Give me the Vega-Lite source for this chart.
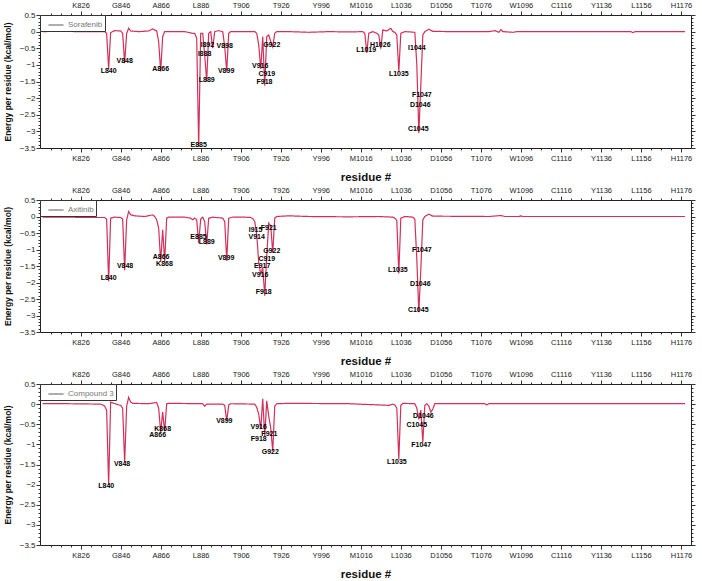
{
  "$schema": "https://vega.github.io/schema/vega-lite/v6.json",
  "padding": {"left": 3, "top": 1, "right": 4, "bottom": 0},
  "spacing": 3,
  "resolve": {"scale": {"strokeDash": "independent"}, "legend": {"strokeDash": "independent"}},
  "config": {
    "font": "Liberation Sans",
    "view": {"stroke": null},
    "axis": {"grid": false, "domainColor": "#222", "tickColor": "#333", "labelColor": "#222", "titleColor": "#111", "labelOverlap": false, "labelFlush": false, "labelBound": false},
    "legend": {"orient": "top-left", "title": null, "offset": 0, "padding": 2, "symbolOffset": 6, "symbolType": "stroke", "symbolSize": 225, "symbolStrokeWidth": 1, "symbolStrokeColor": "#444", "labelFontSize": 8, "labelColor": "#777", "labelOffset": 4, "labelExpr": "datum.label + '      '", "strokeColor": "#333", "fillColor": "white", "cornerRadius": 0}
  },
  "datasets": {
    "line": [
      {"drug": "Sorafenib", "res": 807, "e": 0}, {"drug": "Sorafenib", "res": 815, "e": 0.01}, {"drug": "Sorafenib", "res": 825, "e": 0}, {"drug": "Sorafenib", "res": 835, "e": 0}, {"drug": "Sorafenib", "res": 838, "e": 0}, {"drug": "Sorafenib", "res": 839, "e": -0.05}, {"drug": "Sorafenib", "res": 840, "e": -1.12}, {"drug": "Sorafenib", "res": 841, "e": -0.03}, {"drug": "Sorafenib", "res": 843, "e": 0.03}, {"drug": "Sorafenib", "res": 846, "e": 0.02}, {"drug": "Sorafenib", "res": 847, "e": -0.05}, {"drug": "Sorafenib", "res": 848, "e": -0.95}, {"drug": "Sorafenib", "res": 849, "e": -0.05}, {"drug": "Sorafenib", "res": 850, "e": 0.1}, {"drug": "Sorafenib", "res": 851, "e": 0.02}, {"drug": "Sorafenib", "res": 855, "e": 0}, {"drug": "Sorafenib", "res": 860, "e": 0.02}, {"drug": "Sorafenib", "res": 862, "e": 0.08}, {"drug": "Sorafenib", "res": 864, "e": 0.02}, {"drug": "Sorafenib", "res": 865, "e": -0.3}, {"drug": "Sorafenib", "res": 866, "e": -1.2}, {"drug": "Sorafenib", "res": 867, "e": -0.15}, {"drug": "Sorafenib", "res": 868, "e": 0}, {"drug": "Sorafenib", "res": 872, "e": 0}, {"drug": "Sorafenib", "res": 878, "e": 0}, {"drug": "Sorafenib", "res": 882, "e": -0.05}, {"drug": "Sorafenib", "res": 883, "e": -0.05}, {"drug": "Sorafenib", "res": 884, "e": -0.2}, {"drug": "Sorafenib", "res": 885, "e": -3.45}, {"drug": "Sorafenib", "res": 886, "e": -0.05}, {"drug": "Sorafenib", "res": 887, "e": -0.05}, {"drug": "Sorafenib", "res": 888, "e": -0.7}, {"drug": "Sorafenib", "res": 889, "e": -1.5}, {"drug": "Sorafenib", "res": 890, "e": -0.05}, {"drug": "Sorafenib", "res": 891, "e": 0}, {"drug": "Sorafenib", "res": 892, "e": -0.5}, {"drug": "Sorafenib", "res": 893, "e": 0}, {"drug": "Sorafenib", "res": 895, "e": 0.03}, {"drug": "Sorafenib", "res": 897, "e": 0}, {"drug": "Sorafenib", "res": 898, "e": -0.45}, {"drug": "Sorafenib", "res": 899, "e": -1.2}, {"drug": "Sorafenib", "res": 900, "e": -0.05}, {"drug": "Sorafenib", "res": 901, "e": 0}, {"drug": "Sorafenib", "res": 905, "e": 0}, {"drug": "Sorafenib", "res": 910, "e": 0}, {"drug": "Sorafenib", "res": 913, "e": 0}, {"drug": "Sorafenib", "res": 914, "e": -0.05}, {"drug": "Sorafenib", "res": 915, "e": -0.4}, {"drug": "Sorafenib", "res": 916, "e": -1.12}, {"drug": "Sorafenib", "res": 917, "e": -0.15}, {"drug": "Sorafenib", "res": 918, "e": -1.63}, {"drug": "Sorafenib", "res": 919, "e": -0.15}, {"drug": "Sorafenib", "res": 920, "e": -0.1}, {"drug": "Sorafenib", "res": 921, "e": -0.3}, {"drug": "Sorafenib", "res": 922, "e": -0.46}, {"drug": "Sorafenib", "res": 923, "e": -0.05}, {"drug": "Sorafenib", "res": 924, "e": 0}, {"drug": "Sorafenib", "res": 930, "e": 0}, {"drug": "Sorafenib", "res": 940, "e": -0.02}, {"drug": "Sorafenib", "res": 950, "e": 0}, {"drug": "Sorafenib", "res": 960, "e": -0.01}, {"drug": "Sorafenib", "res": 967, "e": 0}, {"drug": "Sorafenib", "res": 968, "e": -0.05}, {"drug": "Sorafenib", "res": 969, "e": -0.64}, {"drug": "Sorafenib", "res": 970, "e": -0.05}, {"drug": "Sorafenib", "res": 972, "e": 0}, {"drug": "Sorafenib", "res": 974, "e": -0.05}, {"drug": "Sorafenib", "res": 975, "e": -0.1}, {"drug": "Sorafenib", "res": 976, "e": -0.51}, {"drug": "Sorafenib", "res": 977, "e": 0.05}, {"drug": "Sorafenib", "res": 979, "e": 0.02}, {"drug": "Sorafenib", "res": 981, "e": 0.1}, {"drug": "Sorafenib", "res": 982, "e": 0}, {"drug": "Sorafenib", "res": 983, "e": -0.02}, {"drug": "Sorafenib", "res": 984, "e": -0.1}, {"drug": "Sorafenib", "res": 985, "e": -1.2}, {"drug": "Sorafenib", "res": 986, "e": -0.05}, {"drug": "Sorafenib", "res": 988, "e": 0}, {"drug": "Sorafenib", "res": 993, "e": -0.02}, {"drug": "Sorafenib", "res": 994, "e": -1.0}, {"drug": "Sorafenib", "res": 995, "e": -3.05}, {"drug": "Sorafenib", "res": 996, "e": -1.6}, {"drug": "Sorafenib", "res": 997, "e": -0.1}, {"drug": "Sorafenib", "res": 998, "e": 0}, {"drug": "Sorafenib", "res": 1000, "e": 0.07}, {"drug": "Sorafenib", "res": 1002, "e": 0.01}, {"drug": "Sorafenib", "res": 1010, "e": 0}, {"drug": "Sorafenib", "res": 1020, "e": 0}, {"drug": "Sorafenib", "res": 1030, "e": 0}, {"drug": "Sorafenib", "res": 1033, "e": 0.03}, {"drug": "Sorafenib", "res": 1035, "e": -0.02}, {"drug": "Sorafenib", "res": 1036, "e": 0.06}, {"drug": "Sorafenib", "res": 1037, "e": 0}, {"drug": "Sorafenib", "res": 1042, "e": -0.02}, {"drug": "Sorafenib", "res": 1044, "e": 0}, {"drug": "Sorafenib", "res": 1070, "e": 0}, {"drug": "Sorafenib", "res": 1101, "e": 0}, {"drug": "Sorafenib", "res": 1102, "e": -0.03}, {"drug": "Sorafenib", "res": 1103, "e": 0}, {"drug": "Sorafenib", "res": 1128, "e": 0},

      {"drug": "Axitinib", "res": 807, "e": -0.02}, {"drug": "Axitinib", "res": 820, "e": -0.02}, {"drug": "Axitinib", "res": 830, "e": -0.03}, {"drug": "Axitinib", "res": 838, "e": -0.03}, {"drug": "Axitinib", "res": 839, "e": -0.08}, {"drug": "Axitinib", "res": 840, "e": -1.96}, {"drug": "Axitinib", "res": 841, "e": -0.05}, {"drug": "Axitinib", "res": 843, "e": -0.02}, {"drug": "Axitinib", "res": 846, "e": -0.03}, {"drug": "Axitinib", "res": 847, "e": -0.08}, {"drug": "Axitinib", "res": 848, "e": -1.63}, {"drug": "Axitinib", "res": 849, "e": -0.1}, {"drug": "Axitinib", "res": 850, "e": 0.15}, {"drug": "Axitinib", "res": 851, "e": 0.05}, {"drug": "Axitinib", "res": 853, "e": 0.02}, {"drug": "Axitinib", "res": 858, "e": 0}, {"drug": "Axitinib", "res": 862, "e": 0.05}, {"drug": "Axitinib", "res": 863, "e": 0}, {"drug": "Axitinib", "res": 864, "e": -0.1}, {"drug": "Axitinib", "res": 865, "e": -0.35}, {"drug": "Axitinib", "res": 866, "e": -1.37}, {"drug": "Axitinib", "res": 867, "e": -0.4}, {"drug": "Axitinib", "res": 868, "e": -1.37}, {"drug": "Axitinib", "res": 869, "e": -0.05}, {"drug": "Axitinib", "res": 870, "e": -0.02}, {"drug": "Axitinib", "res": 878, "e": -0.02}, {"drug": "Axitinib", "res": 881, "e": -0.05}, {"drug": "Axitinib", "res": 882, "e": -0.1}, {"drug": "Axitinib", "res": 883, "e": -0.05}, {"drug": "Axitinib", "res": 884, "e": -0.1}, {"drug": "Axitinib", "res": 885, "e": -0.8}, {"drug": "Axitinib", "res": 886, "e": -0.08}, {"drug": "Axitinib", "res": 887, "e": -0.02}, {"drug": "Axitinib", "res": 888, "e": -0.15}, {"drug": "Axitinib", "res": 889, "e": -0.85}, {"drug": "Axitinib", "res": 890, "e": -0.05}, {"drug": "Axitinib", "res": 892, "e": -0.02}, {"drug": "Axitinib", "res": 897, "e": -0.05}, {"drug": "Axitinib", "res": 898, "e": -0.15}, {"drug": "Axitinib", "res": 899, "e": -1.35}, {"drug": "Axitinib", "res": 900, "e": -0.05}, {"drug": "Axitinib", "res": 902, "e": -0.02}, {"drug": "Axitinib", "res": 908, "e": -0.02}, {"drug": "Axitinib", "res": 911, "e": -0.03}, {"drug": "Axitinib", "res": 912, "e": -0.06}, {"drug": "Axitinib", "res": 913, "e": -0.15}, {"drug": "Axitinib", "res": 914, "e": -0.55}, {"drug": "Axitinib", "res": 915, "e": -1.4}, {"drug": "Axitinib", "res": 916, "e": -1.75}, {"drug": "Axitinib", "res": 917, "e": -1.55}, {"drug": "Axitinib", "res": 918, "e": -2.4}, {"drug": "Axitinib", "res": 919, "e": -1.2}, {"drug": "Axitinib", "res": 920, "e": -0.2}, {"drug": "Axitinib", "res": 921, "e": -0.28}, {"drug": "Axitinib", "res": 922, "e": -1.1}, {"drug": "Axitinib", "res": 923, "e": -0.05}, {"drug": "Axitinib", "res": 924, "e": 0}, {"drug": "Axitinib", "res": 930, "e": 0.02}, {"drug": "Axitinib", "res": 940, "e": 0}, {"drug": "Axitinib", "res": 960, "e": -0.01}, {"drug": "Axitinib", "res": 975, "e": 0}, {"drug": "Axitinib", "res": 982, "e": -0.02}, {"drug": "Axitinib", "res": 983, "e": -0.05}, {"drug": "Axitinib", "res": 984, "e": -0.12}, {"drug": "Axitinib", "res": 985, "e": -1.73}, {"drug": "Axitinib", "res": 986, "e": -0.05}, {"drug": "Axitinib", "res": 988, "e": 0}, {"drug": "Axitinib", "res": 992, "e": -0.02}, {"drug": "Axitinib", "res": 993, "e": -0.08}, {"drug": "Axitinib", "res": 994, "e": -1.3}, {"drug": "Axitinib", "res": 995, "e": -2.9}, {"drug": "Axitinib", "res": 996, "e": -1.6}, {"drug": "Axitinib", "res": 997, "e": -0.1}, {"drug": "Axitinib", "res": 998, "e": 0}, {"drug": "Axitinib", "res": 1000, "e": 0.07}, {"drug": "Axitinib", "res": 1002, "e": 0.01}, {"drug": "Axitinib", "res": 1030, "e": 0}, {"drug": "Axitinib", "res": 1036, "e": 0.03}, {"drug": "Axitinib", "res": 1038, "e": 0}, {"drug": "Axitinib", "res": 1045, "e": 0}, {"drug": "Axitinib", "res": 1046, "e": 0.02}, {"drug": "Axitinib", "res": 1047, "e": 0}, {"drug": "Axitinib", "res": 1128, "e": 0},

      {"drug": "Compound 3", "res": 807, "e": 0.01}, {"drug": "Compound 3", "res": 820, "e": 0.01}, {"drug": "Compound 3", "res": 836, "e": 0}, {"drug": "Compound 3", "res": 837, "e": -0.02}, {"drug": "Compound 3", "res": 838, "e": -0.05}, {"drug": "Compound 3", "res": 839, "e": -0.15}, {"drug": "Compound 3", "res": 840, "e": -2.0}, {"drug": "Compound 3", "res": 841, "e": 0.05}, {"drug": "Compound 3", "res": 842, "e": 0.03}, {"drug": "Compound 3", "res": 845, "e": -0.02}, {"drug": "Compound 3", "res": 846, "e": -0.03}, {"drug": "Compound 3", "res": 847, "e": -0.1}, {"drug": "Compound 3", "res": 848, "e": -1.45}, {"drug": "Compound 3", "res": 849, "e": -0.05}, {"drug": "Compound 3", "res": 850, "e": 0.17}, {"drug": "Compound 3", "res": 851, "e": 0.05}, {"drug": "Compound 3", "res": 852, "e": 0.02}, {"drug": "Compound 3", "res": 860, "e": 0.01}, {"drug": "Compound 3", "res": 864, "e": 0.04}, {"drug": "Compound 3", "res": 865, "e": -0.1}, {"drug": "Compound 3", "res": 866, "e": -0.7}, {"drug": "Compound 3", "res": 867, "e": -0.2}, {"drug": "Compound 3", "res": 868, "e": -0.68}, {"drug": "Compound 3", "res": 869, "e": 0.01}, {"drug": "Compound 3", "res": 870, "e": 0.02}, {"drug": "Compound 3", "res": 887, "e": 0.01}, {"drug": "Compound 3", "res": 888, "e": -0.05}, {"drug": "Compound 3", "res": 889, "e": 0}, {"drug": "Compound 3", "res": 897, "e": 0}, {"drug": "Compound 3", "res": 898, "e": -0.03}, {"drug": "Compound 3", "res": 899, "e": -0.42}, {"drug": "Compound 3", "res": 900, "e": -0.02}, {"drug": "Compound 3", "res": 901, "e": 0.01}, {"drug": "Compound 3", "res": 913, "e": 0}, {"drug": "Compound 3", "res": 914, "e": -0.08}, {"drug": "Compound 3", "res": 915, "e": -0.25}, {"drug": "Compound 3", "res": 916, "e": -0.62}, {"drug": "Compound 3", "res": 917, "e": 0.13}, {"drug": "Compound 3", "res": 918, "e": -0.8}, {"drug": "Compound 3", "res": 919, "e": 0.08}, {"drug": "Compound 3", "res": 920, "e": -0.3}, {"drug": "Compound 3", "res": 921, "e": -0.6}, {"drug": "Compound 3", "res": 922, "e": -1.17}, {"drug": "Compound 3", "res": 923, "e": -0.05}, {"drug": "Compound 3", "res": 924, "e": 0.01}, {"drug": "Compound 3", "res": 930, "e": 0.02}, {"drug": "Compound 3", "res": 960, "e": 0.01}, {"drug": "Compound 3", "res": 980, "e": -0.03}, {"drug": "Compound 3", "res": 982, "e": 0}, {"drug": "Compound 3", "res": 983, "e": -0.02}, {"drug": "Compound 3", "res": 984, "e": -0.1}, {"drug": "Compound 3", "res": 985, "e": -1.37}, {"drug": "Compound 3", "res": 986, "e": -0.03}, {"drug": "Compound 3", "res": 987, "e": 0.02}, {"drug": "Compound 3", "res": 993, "e": 0.01}, {"drug": "Compound 3", "res": 994, "e": -0.1}, {"drug": "Compound 3", "res": 995, "e": -0.38}, {"drug": "Compound 3", "res": 996, "e": -0.15}, {"drug": "Compound 3", "res": 997, "e": -0.95}, {"drug": "Compound 3", "res": 998, "e": -0.03}, {"drug": "Compound 3", "res": 999, "e": 0.01}, {"drug": "Compound 3", "res": 1000, "e": -0.05}, {"drug": "Compound 3", "res": 1001, "e": -0.2}, {"drug": "Compound 3", "res": 1002, "e": -0.12}, {"drug": "Compound 3", "res": 1003, "e": 0.01}, {"drug": "Compound 3", "res": 1028, "e": 0.01}, {"drug": "Compound 3", "res": 1029, "e": -0.02}, {"drug": "Compound 3", "res": 1030, "e": 0.01}, {"drug": "Compound 3", "res": 1128, "e": 0.01}
    ],
    "labels": [
      {"drug": "Sorafenib", "name": "L840", "res": 840, "e": -1.17}, {"drug": "Sorafenib", "name": "V848", "res": 848, "e": -0.87}, {"drug": "Sorafenib", "name": "A866", "res": 866, "e": -1.11}, {"drug": "Sorafenib", "name": "E885", "res": 885, "e": -3.4}, {"drug": "Sorafenib", "name": "I888", "res": 888, "e": -0.67}, {"drug": "Sorafenib", "name": "I892", "res": 889.4, "e": -0.41}, {"drug": "Sorafenib", "name": "L889", "res": 889, "e": -1.45}, {"drug": "Sorafenib", "name": "V898", "res": 898, "e": -0.44}, {"drug": "Sorafenib", "name": "V899", "res": 898.7, "e": -1.17}, {"drug": "Sorafenib", "name": "V916", "res": 915.7, "e": -1.04}, {"drug": "Sorafenib", "name": "F918", "res": 917.9, "e": -1.5}, {"drug": "Sorafenib", "name": "C919", "res": 919, "e": -1.27}, {"drug": "Sorafenib", "name": "G922", "res": 921.5, "e": -0.39}, {"drug": "Sorafenib", "name": "L1019", "res": 968.7, "e": -0.56}, {"drug": "Sorafenib", "name": "H1026", "res": 975.7, "e": -0.39}, {"drug": "Sorafenib", "name": "L1035", "res": 985, "e": -1.27}, {"drug": "Sorafenib", "name": "I1044", "res": 994, "e": -0.48}, {"drug": "Sorafenib", "name": "C1045", "res": 994.7, "e": -2.94}, {"drug": "Sorafenib", "name": "D1046", "res": 995.7, "e": -2.21}, {"drug": "Sorafenib", "name": "F1047", "res": 996.5, "e": -1.9},
      {"drug": "Axitinib", "name": "L840", "res": 840, "e": -1.86}, {"drug": "Axitinib", "name": "V848", "res": 848.2, "e": -1.5}, {"drug": "Axitinib", "name": "A866", "res": 866.2, "e": -1.22}, {"drug": "Axitinib", "name": "K868", "res": 867.9, "e": -1.43}, {"drug": "Axitinib", "name": "E885", "res": 884.9, "e": -0.61}, {"drug": "Axitinib", "name": "L889", "res": 889, "e": -0.78}, {"drug": "Axitinib", "name": "V899", "res": 898.7, "e": -1.27}, {"drug": "Axitinib", "name": "I915", "res": 913.4, "e": -0.41}, {"drug": "Axitinib", "name": "V914", "res": 914, "e": -0.63}, {"drug": "Axitinib", "name": "F921", "res": 920, "e": -0.36}, {"drug": "Axitinib", "name": "G922", "res": 921.5, "e": -1.04}, {"drug": "Axitinib", "name": "C919", "res": 919, "e": -1.29}, {"drug": "Axitinib", "name": "E917", "res": 916.7, "e": -1.5}, {"drug": "Axitinib", "name": "V916", "res": 915.7, "e": -1.76}, {"drug": "Axitinib", "name": "F918", "res": 917.5, "e": -2.29}, {"drug": "Axitinib", "name": "L1035", "res": 984.5, "e": -1.63}, {"drug": "Axitinib", "name": "F1047", "res": 996.5, "e": -1.02}, {"drug": "Axitinib", "name": "D1046", "res": 995.7, "e": -2.06}, {"drug": "Axitinib", "name": "C1045", "res": 994.7, "e": -2.84},
      {"drug": "Compound 3", "name": "L840", "res": 838.8, "e": -2.03}, {"drug": "Compound 3", "name": "V848", "res": 846.7, "e": -1.49}, {"drug": "Compound 3", "name": "K868", "res": 867, "e": -0.62}, {"drug": "Compound 3", "name": "A866", "res": 864.5, "e": -0.76}, {"drug": "Compound 3", "name": "V899", "res": 897.8, "e": -0.43}, {"drug": "Compound 3", "name": "V916", "res": 915, "e": -0.56}, {"drug": "Compound 3", "name": "F921", "res": 920.3, "e": -0.73}, {"drug": "Compound 3", "name": "F918", "res": 915, "e": -0.87}, {"drug": "Compound 3", "name": "G922", "res": 920.8, "e": -1.2}, {"drug": "Compound 3", "name": "L1035", "res": 984, "e": -1.45}, {"drug": "Compound 3", "name": "D1046", "res": 997.3, "e": -0.29}, {"drug": "Compound 3", "name": "C1045", "res": 994, "e": -0.51}, {"drug": "Compound 3", "name": "F1047", "res": 996.2, "e": -1.02}
    ]
  },
  "vconcat": [
    {
      "width": 651, "height": 133,
      "layer": [
        {"data": {"name": "line"}, "transform": [{"filter": "datum.drug === 'Sorafenib'"}],
         "mark": {"type": "line", "color": "#d32f5a", "strokeWidth": 1.2},
         "encoding": {
           "x": {"field": "res", "type": "quantitative", "scale": {"domain": [805.7, 1131], "nice": false, "zero": false},
                 "axis": {"orient": "bottom", "title": "residue #", "titleFontSize": 11.5, "titleFontWeight": "bold", "titlePadding": 10, "labelFontSize": 7.5, "labelPadding": 2,
                          "values": [811,816,821,826,831,836,841,846,851,856,861,866,871,876,881,886,891,896,901,906,911,916,921,926,931,936,941,946,951,956,961,966,971,976,981,986,991,996,1001,1006,1011,1016,1021,1026,1031,1036,1041,1046,1051,1056,1061,1066,1071,1076,1081,1086,1091,1096,1101,1106,1111,1116,1121,1126],
                          "labelExpr": "(datum.value-826)%20===0 ? ['K826','G846','A866','L886','T906','T926','Y996','M1016','L1036','D1056','T1076','W1096','C1116','Y1136','L1156','H1176'][(datum.value-826)/20] : ''",
                          "tickSize": {"condition": {"test": "(datum.value-826)%20===0", "value": 4}, "value": 2}}},
           "y": {"field": "e", "type": "quantitative", "scale": {"domain": [-3.5, 0.5], "nice": false, "zero": false},
                 "axis": {"orient": "left", "title": "Energy per residue (kcal/mol)", "titleFontSize": 8.5, "titleFontWeight": "bold", "titlePadding": 7, "labelFontSize": 8, "labelPadding": 1, "format": ".1~f",
                          "values": [-3.5,-3.4,-3.3,-3.2,-3.1,-3,-2.9,-2.8,-2.7,-2.6,-2.5,-2.4,-2.3,-2.2,-2.1,-2,-1.9,-1.8,-1.7,-1.6,-1.5,-1.4,-1.3,-1.2,-1.1,-1,-0.9,-0.8,-0.7,-0.6,-0.5,-0.4,-0.3,-0.2,-0.1,0,0.1,0.2,0.3,0.4,0.5],
                          "labelExpr": "abs(datum.value*2-round(datum.value*2))<0.01 ? datum.label : ''",
                          "tickSize": {"condition": {"test": "abs(datum.value*2-round(datum.value*2))<0.01", "value": 4}, "value": 2}}},
           "strokeDash": {"field": "drug", "type": "nominal", "scale": {"range": [[1, 0]]}}
         }},
        {"data": {"name": "labels"}, "transform": [{"filter": "datum.drug === 'Sorafenib'"}],
         "mark": {"type": "text", "fontSize": 7, "fontWeight": "bold", "color": "#000", "fill": "#000"},
         "encoding": {
           "x": {"field": "res", "type": "quantitative",
                 "axis": {"orient": "top", "title": null, "labelFontSize": 7.5, "labelPadding": 2,
                          "values": [811,816,821,826,831,836,841,846,851,856,861,866,871,876,881,886,891,896,901,906,911,916,921,926,931,936,941,946,951,956,961,966,971,976,981,986,991,996,1001,1006,1011,1016,1021,1026,1031,1036,1041,1046,1051,1056,1061,1066,1071,1076,1081,1086,1091,1096,1101,1106,1111,1116,1121,1126],
                          "labelExpr": "(datum.value-826)%20===0 ? ['K826','G846','A866','L886','T906','T926','Y996','M1016','L1036','D1056','T1076','W1096','C1116','Y1136','L1156','H1176'][(datum.value-826)/20] : ''",
                          "tickSize": {"condition": {"test": "(datum.value-826)%20===0", "value": 4}, "value": 2}}},
           "y": {"field": "e", "type": "quantitative",
                 "axis": {"orient": "right", "title": null, "labels": false,
                          "values": [-3.5,-3.4,-3.3,-3.2,-3.1,-3,-2.9,-2.8,-2.7,-2.6,-2.5,-2.4,-2.3,-2.2,-2.1,-2,-1.9,-1.8,-1.7,-1.6,-1.5,-1.4,-1.3,-1.2,-1.1,-1,-0.9,-0.8,-0.7,-0.6,-0.5,-0.4,-0.3,-0.2,-0.1,0,0.1,0.2,0.3,0.4,0.5],
                          "tickSize": {"condition": {"test": "abs(datum.value*2-round(datum.value*2))<0.01", "value": 4}, "value": 2}}},
           "text": {"field": "name"}
         }}
      ],
      "resolve": {"axis": {"x": "independent", "y": "independent"}}
    },
    {
      "width": 651, "height": 132,
      "layer": [
        {"data": {"name": "line"}, "transform": [{"filter": "datum.drug === 'Axitinib'"}],
         "mark": {"type": "line", "color": "#d32f5a", "strokeWidth": 1.2},
         "encoding": {
           "x": {"field": "res", "type": "quantitative", "scale": {"domain": [805.7, 1131], "nice": false, "zero": false},
                 "axis": {"orient": "bottom", "title": "residue #", "titleFontSize": 11.5, "titleFontWeight": "bold", "titlePadding": 10, "labelFontSize": 7.5, "labelPadding": 2,
                          "values": [811,816,821,826,831,836,841,846,851,856,861,866,871,876,881,886,891,896,901,906,911,916,921,926,931,936,941,946,951,956,961,966,971,976,981,986,991,996,1001,1006,1011,1016,1021,1026,1031,1036,1041,1046,1051,1056,1061,1066,1071,1076,1081,1086,1091,1096,1101,1106,1111,1116,1121,1126],
                          "labelExpr": "(datum.value-826)%20===0 ? ['K826','G846','A866','L886','T906','T926','Y996','M1016','L1036','D1056','T1076','W1096','C1116','Y1136','L1156','H1176'][(datum.value-826)/20] : ''",
                          "tickSize": {"condition": {"test": "(datum.value-826)%20===0", "value": 4}, "value": 2}}},
           "y": {"field": "e", "type": "quantitative", "scale": {"domain": [-3.5, 0.5], "nice": false, "zero": false},
                 "axis": {"orient": "left", "title": "Energy per residue (kcal/mol)", "titleFontSize": 8.5, "titleFontWeight": "bold", "titlePadding": 7, "labelFontSize": 8, "labelPadding": 1, "format": ".1~f",
                          "values": [-3.5,-3.4,-3.3,-3.2,-3.1,-3,-2.9,-2.8,-2.7,-2.6,-2.5,-2.4,-2.3,-2.2,-2.1,-2,-1.9,-1.8,-1.7,-1.6,-1.5,-1.4,-1.3,-1.2,-1.1,-1,-0.9,-0.8,-0.7,-0.6,-0.5,-0.4,-0.3,-0.2,-0.1,0,0.1,0.2,0.3,0.4,0.5],
                          "labelExpr": "abs(datum.value*2-round(datum.value*2))<0.01 ? datum.label : ''",
                          "tickSize": {"condition": {"test": "abs(datum.value*2-round(datum.value*2))<0.01", "value": 4}, "value": 2}}},
           "strokeDash": {"field": "drug", "type": "nominal", "scale": {"range": [[1, 0]]}}
         }},
        {"data": {"name": "labels"}, "transform": [{"filter": "datum.drug === 'Axitinib'"}],
         "mark": {"type": "text", "fontSize": 7, "fontWeight": "bold", "color": "#000", "fill": "#000"},
         "encoding": {
           "x": {"field": "res", "type": "quantitative",
                 "axis": {"orient": "top", "title": null, "labelFontSize": 7.5, "labelPadding": 2,
                          "values": [811,816,821,826,831,836,841,846,851,856,861,866,871,876,881,886,891,896,901,906,911,916,921,926,931,936,941,946,951,956,961,966,971,976,981,986,991,996,1001,1006,1011,1016,1021,1026,1031,1036,1041,1046,1051,1056,1061,1066,1071,1076,1081,1086,1091,1096,1101,1106,1111,1116,1121,1126],
                          "labelExpr": "(datum.value-826)%20===0 ? ['K826','G846','A866','L886','T906','T926','Y996','M1016','L1036','D1056','T1076','W1096','C1116','Y1136','L1156','H1176'][(datum.value-826)/20] : ''",
                          "tickSize": {"condition": {"test": "(datum.value-826)%20===0", "value": 4}, "value": 2}}},
           "y": {"field": "e", "type": "quantitative",
                 "axis": {"orient": "right", "title": null, "labels": false,
                          "values": [-3.5,-3.4,-3.3,-3.2,-3.1,-3,-2.9,-2.8,-2.7,-2.6,-2.5,-2.4,-2.3,-2.2,-2.1,-2,-1.9,-1.8,-1.7,-1.6,-1.5,-1.4,-1.3,-1.2,-1.1,-1,-0.9,-0.8,-0.7,-0.6,-0.5,-0.4,-0.3,-0.2,-0.1,0,0.1,0.2,0.3,0.4,0.5],
                          "tickSize": {"condition": {"test": "abs(datum.value*2-round(datum.value*2))<0.01", "value": 4}, "value": 2}}},
           "text": {"field": "name"}
         }}
      ],
      "resolve": {"axis": {"x": "independent", "y": "independent"}}
    },
    {
      "width": 651, "height": 161,
      "layer": [
        {"data": {"name": "line"}, "transform": [{"filter": "datum.drug === 'Compound 3'"}],
         "mark": {"type": "line", "color": "#d32f5a", "strokeWidth": 1.2},
         "encoding": {
           "x": {"field": "res", "type": "quantitative", "scale": {"domain": [805.7, 1131], "nice": false, "zero": false},
                 "axis": {"orient": "bottom", "title": "residue #", "titleFontSize": 11.5, "titleFontWeight": "bold", "titlePadding": 10, "labelFontSize": 7.5, "labelPadding": 2,
                          "values": [811,816,821,826,831,836,841,846,851,856,861,866,871,876,881,886,891,896,901,906,911,916,921,926,931,936,941,946,951,956,961,966,971,976,981,986,991,996,1001,1006,1011,1016,1021,1026,1031,1036,1041,1046,1051,1056,1061,1066,1071,1076,1081,1086,1091,1096,1101,1106,1111,1116,1121,1126],
                          "labelExpr": "(datum.value-826)%20===0 ? ['K826','G846','A866','L886','T906','T926','Y996','M1016','L1036','D1056','T1076','W1096','C1116','Y1136','L1156','H1176'][(datum.value-826)/20] : ''",
                          "tickSize": {"condition": {"test": "(datum.value-826)%20===0", "value": 4}, "value": 2}}},
           "y": {"field": "e", "type": "quantitative", "scale": {"domain": [-3.5, 0.5], "nice": false, "zero": false},
                 "axis": {"orient": "left", "title": "Energy per residue (kcal/mol)", "titleFontSize": 8.5, "titleFontWeight": "bold", "titlePadding": 7, "labelFontSize": 8, "labelPadding": 1, "format": ".1~f",
                          "values": [-3.5,-3.4,-3.3,-3.2,-3.1,-3,-2.9,-2.8,-2.7,-2.6,-2.5,-2.4,-2.3,-2.2,-2.1,-2,-1.9,-1.8,-1.7,-1.6,-1.5,-1.4,-1.3,-1.2,-1.1,-1,-0.9,-0.8,-0.7,-0.6,-0.5,-0.4,-0.3,-0.2,-0.1,0,0.1,0.2,0.3,0.4,0.5],
                          "labelExpr": "abs(datum.value*2-round(datum.value*2))<0.01 ? datum.label : ''",
                          "tickSize": {"condition": {"test": "abs(datum.value*2-round(datum.value*2))<0.01", "value": 4}, "value": 2}}},
           "strokeDash": {"field": "drug", "type": "nominal", "scale": {"range": [[1, 0]]}}
         }},
        {"data": {"name": "labels"}, "transform": [{"filter": "datum.drug === 'Compound 3'"}],
         "mark": {"type": "text", "fontSize": 7, "fontWeight": "bold", "color": "#000", "fill": "#000"},
         "encoding": {
           "x": {"field": "res", "type": "quantitative",
                 "axis": {"orient": "top", "title": null, "labelFontSize": 7.5, "labelPadding": 2,
                          "values": [811,816,821,826,831,836,841,846,851,856,861,866,871,876,881,886,891,896,901,906,911,916,921,926,931,936,941,946,951,956,961,966,971,976,981,986,991,996,1001,1006,1011,1016,1021,1026,1031,1036,1041,1046,1051,1056,1061,1066,1071,1076,1081,1086,1091,1096,1101,1106,1111,1116,1121,1126],
                          "labelExpr": "(datum.value-826)%20===0 ? ['K826','G846','A866','L886','T906','T926','Y996','M1016','L1036','D1056','T1076','W1096','C1116','Y1136','L1156','H1176'][(datum.value-826)/20] : ''",
                          "tickSize": {"condition": {"test": "(datum.value-826)%20===0", "value": 4}, "value": 2}}},
           "y": {"field": "e", "type": "quantitative",
                 "axis": {"orient": "right", "title": null, "labels": false,
                          "values": [-3.5,-3.4,-3.3,-3.2,-3.1,-3,-2.9,-2.8,-2.7,-2.6,-2.5,-2.4,-2.3,-2.2,-2.1,-2,-1.9,-1.8,-1.7,-1.6,-1.5,-1.4,-1.3,-1.2,-1.1,-1,-0.9,-0.8,-0.7,-0.6,-0.5,-0.4,-0.3,-0.2,-0.1,0,0.1,0.2,0.3,0.4,0.5],
                          "tickSize": {"condition": {"test": "abs(datum.value*2-round(datum.value*2))<0.01", "value": 4}, "value": 2}}},
           "text": {"field": "name"}
         }}
      ],
      "resolve": {"axis": {"x": "independent", "y": "independent"}}
    }
  ]
}
